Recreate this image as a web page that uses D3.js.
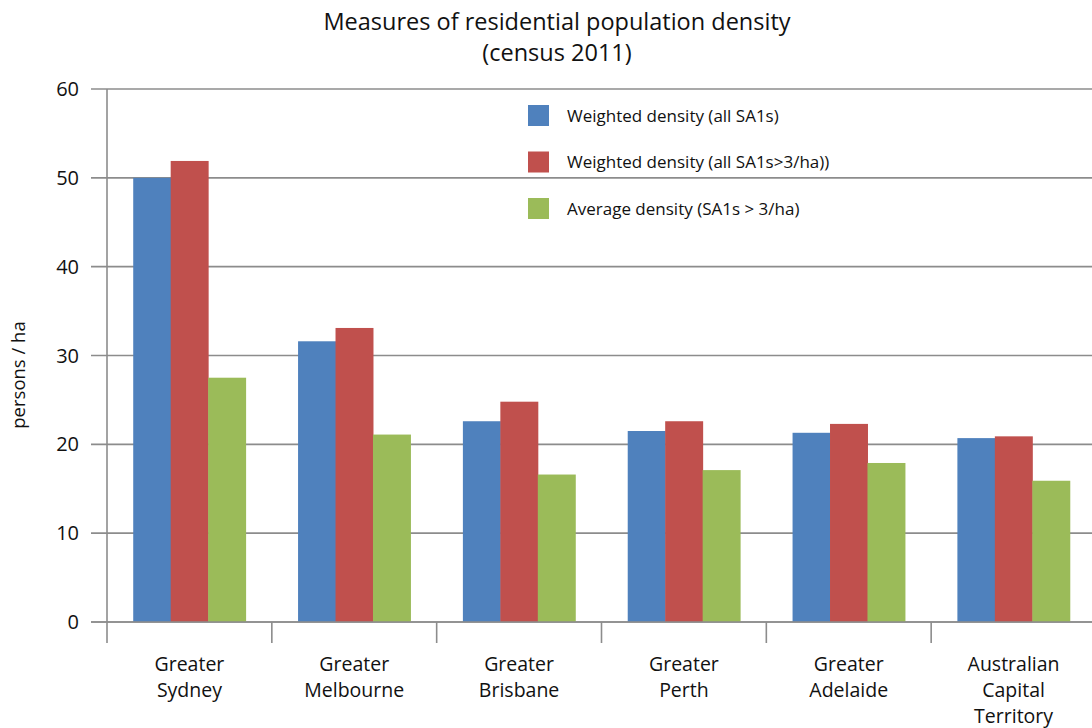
<!DOCTYPE html>
<html><head><meta charset="utf-8">
<script src="https://cdn.jsdelivr.net/npm/d3@7"></script>
<style>body{margin:0;background:#fff;} svg{display:block;} text{font-family:"Open Sans","Noto Sans",sans-serif;fill:#111;}</style>
</head><body>
<svg id="chart" width="1092" height="728"></svg>
<script>
const categories = [["Greater","Sydney"],["Greater","Melbourne"],["Greater","Brisbane"],["Greater","Perth"],["Greater","Adelaide"],["Australian","Capital","Territory"]];
const seriesNames = ["Weighted density (all SA1s)","Weighted density (all SA1s>3/ha))","Average density (SA1s > 3/ha)"];
const weightedAll = [50.0, 31.6, 22.6, 21.5, 21.3, 20.7];
const weightedOver3 = [51.9, 33.1, 24.8, 22.6, 22.3, 20.9];
const averageOver3 = [27.5, 21.1, 16.6, 17.1, 17.9, 15.9];
const yTicks = [0,10,20,30,40,50,60];
const colors = ["#4F81BD","#C0504D","#9BBB59"];
const series = [weightedAll, weightedOver3, averageOver3];

const svg = d3.select("#chart");
const mLeft = 107, mRight = 1096, mTop = 89, mBottom = 622;
const keys = categories.map((c,i)=>i);
const x = d3.scaleBand().domain(keys).range([mLeft,mRight]).paddingInner(0).paddingOuter(0);
const x1 = d3.scaleBand().domain([0,1,2]).range([0,x.bandwidth()]).paddingOuter(0.7).paddingInner(0);
const y = d3.scaleLinear().domain([0,60]).range([mBottom,mTop]);
const grid = "#8c8c8c";

// gridlines
svg.append("g").selectAll("line").data(yTicks).join("line")
  .attr("x1",91).attr("x2",1092).attr("y1",d=>y(d)).attr("y2",d=>y(d))
  .attr("stroke",grid).attr("stroke-width",1.6);

// bars
const g = svg.append("g");
series.forEach((vals,s)=>{
  g.selectAll(null).data(vals).join("rect")
    .attr("x",(d,i)=>x(i)+x1(s)).attr("width",x1.bandwidth()+0.5)
    .attr("y",d=>y(d)).attr("height",d=>y(0)-y(d))
    .attr("fill",colors[s]);
});

// y axis line
svg.append("line").attr("x1",mLeft).attr("x2",mLeft).attr("y1",mTop).attr("y2",643)
  .attr("stroke",grid).attr("stroke-width",1.6);
// x ticks
const xTickPos = keys.map(i=>x(i));
svg.append("g").selectAll("line").data(xTickPos.slice(1)).join("line")
  .attr("x1",d=>d).attr("x2",d=>d).attr("y1",mBottom).attr("y2",643)
  .attr("stroke",grid).attr("stroke-width",1.6);
svg.append("line").attr("x1",91).attr("x2",1092).attr("y1",y(0)).attr("y2",y(0)).attr("stroke",grid).attr("stroke-width",1.6);

// y tick labels
svg.append("g").selectAll("text").data(yTicks).join("text")
  .attr("x",79).attr("y",d=>y(d)).attr("dy","0.35em").attr("text-anchor","end")
  .style("font-size","20px").text(d=>d);

// category labels
categories.forEach((lines,i)=>{
  const t = svg.append("text").attr("text-anchor","middle").style("font-size","19.5px");
  lines.forEach((ln,j)=>{
    t.append("tspan").attr("x",x(i)+x.bandwidth()/2).attr("y",671+j*26).text(ln);
  });
});

// y label
svg.append("text").attr("transform","translate(25,375) rotate(-90)").attr("text-anchor","middle")
  .style("font-size","18.5px").text("persons / ha");

// title
svg.append("text").attr("x",557).attr("y",30).attr("text-anchor","middle").style("font-size","23.5px").text("Measures of residential population density");
svg.append("text").attr("x",557).attr("y",61).attr("text-anchor","middle").style("font-size","23.5px").text("(census 2011)");

// legend
const lg = svg.append("g");
seriesNames.forEach((n,i)=>{
  lg.append("rect").attr("x",528).attr("y",105+i*46.5).attr("width",21).attr("height",21).attr("fill",colors[i]);
  lg.append("text").attr("x",567).attr("y",116+i*46.5).attr("dy","0.35em").style("font-size","17px").text(n);
});
</script>
</body></html>
